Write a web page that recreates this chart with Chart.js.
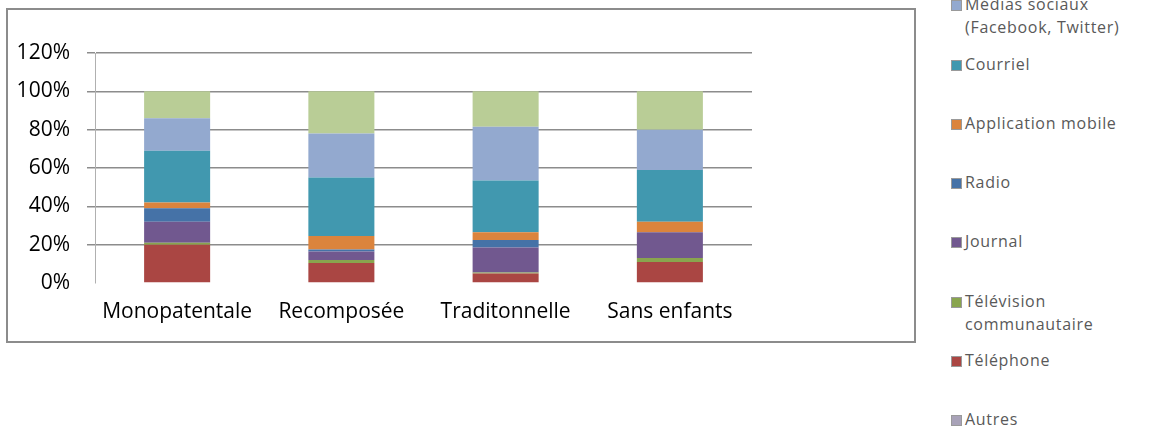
<!DOCTYPE html>
<html>
<head>
<meta charset="utf-8">
<script src="https://cdn.jsdelivr.net/npm/chart.js@4"></script>
<style>
  body { margin: 0; width: 1154px; height: 429px; background: #fff; overflow: hidden; position: relative; font-family: "Open Sans", sans-serif; }
  #frame { position: absolute; left: 6px; top: 8px; width: 910px; height: 335px; border: 2px solid #8c8c8c; box-sizing: border-box; }
  #chart { position: absolute; left: 0; top: 0; }
  #legend { position: absolute; left: 951px; top: -66px; }
  .item { position: relative; height: 59.3px; font-size: 16px; line-height: 23px; color: #595959; letter-spacing: 0.7px; padding-left: 14px; }
  .item span.box { position: absolute; left: 0; top: 7px; width: 9px; height: 9px; border: 1px solid #9a9a9a; }
</style>
</head>
<body>
<div id="frame"></div>
<canvas id="chart" width="920" height="350"></canvas>
<div id="legend"></div>
<script>
var categories = ["Monopatentale", "Recomposée", "Traditonnelle", "Sans enfants"];

// stacked from the bottom up, values in %
var autres = [0, 0, 0, 0];
var telephone = [20, 10.5, 5, 11];
var televisionCommunautaire = [1, 1.5, 0.5, 2];
var journal = [11, 4.5, 13, 13.5];
var radio = [7, 1, 4, 0];
var applicationMobile = [3, 7, 4, 5.5];
var courriel = [27, 30.5, 27, 27];
var mediasSociaux = [17, 23, 28, 21];
var siteWeb = [14, 22, 18.5, 20];

var yTicks = [0, 20, 40, 60, 80, 100, 120];

var series = [
  { label: "Autres", data: autres, color: "#a8a2b8" },
  { label: "Téléphone", data: telephone, color: "#aa4643" },
  { label: "Télévision\ncommunautaire", data: televisionCommunautaire, color: "#89a54e" },
  { label: "Journal", data: journal, color: "#71588f" },
  { label: "Radio", data: radio, color: "#4572a7" },
  { label: "Application mobile", data: applicationMobile, color: "#db843d" },
  { label: "Courriel", data: courriel, color: "#4198af" },
  { label: "Médias sociaux\n(Facebook, Twitter)", data: mediasSociaux, color: "#93a9cf" },
  { label: "Site Web", data: siteWeb, color: "#b9cd96" }
];

var datasets = series.map(function (s) {
  return {
    label: s.label,
    data: s.data,
    backgroundColor: s.color,
    borderWidth: 0,
    categoryPercentage: 1,
    barPercentage: 0.402
  };
});

var labelFont = { family: "Open Sans", size: 21 };

var chart = new Chart(document.getElementById("chart"), {
  type: "bar",
  data: { labels: categories, datasets: datasets },
  options: {
    responsive: false,
    animation: false,
    devicePixelRatio: 1,
    layout: { padding: { top: 53, right: 168, left: 0, bottom: 0 } },
    plugins: { legend: { display: false }, tooltip: { enabled: false } },
    scales: {
      x: {
        stacked: true,
        grid: { display: false },
        border: { display: false },
        ticks: { font: labelFont, color: "#000", padding: 8, maxRotation: 0 },
        afterFit: function (s) { s.height = 67; }
      },
      y: {
        stacked: true,
        min: 0,
        max: 120,
        afterBuildTicks: function (s) { s.ticks = yTicks.map(function (v) { return { value: v }; }); },
        ticks: {
          font: labelFont,
          color: "#000",
          padding: 17,
          callback: function (v) { return v + "%"; }
        },
        grid: {
          color: function (ctx) { return ctx.tick && ctx.tick.value === 0 ? "rgba(0,0,0,0)" : "#8c8c8c"; },
          lineWidth: 1.5,
          tickLength: 8
        },
        border: { color: "#b0b0b0", width: 1 },
        afterFit: function (s) { s.width = 95; }
      }
    }
  }
});

// legend on the right, top series first
var legend = document.getElementById("legend");
series.slice().reverse().forEach(function (s) {
  var div = document.createElement("div");
  div.className = "item";
  var box = document.createElement("span");
  box.className = "box";
  box.style.background = s.color;
  div.appendChild(box);
  s.label.split("\n").forEach(function (line, i) {
    if (i > 0) div.appendChild(document.createElement("br"));
    div.appendChild(document.createTextNode(line));
  });
  legend.appendChild(div);
});
</script>
</body>
</html>
